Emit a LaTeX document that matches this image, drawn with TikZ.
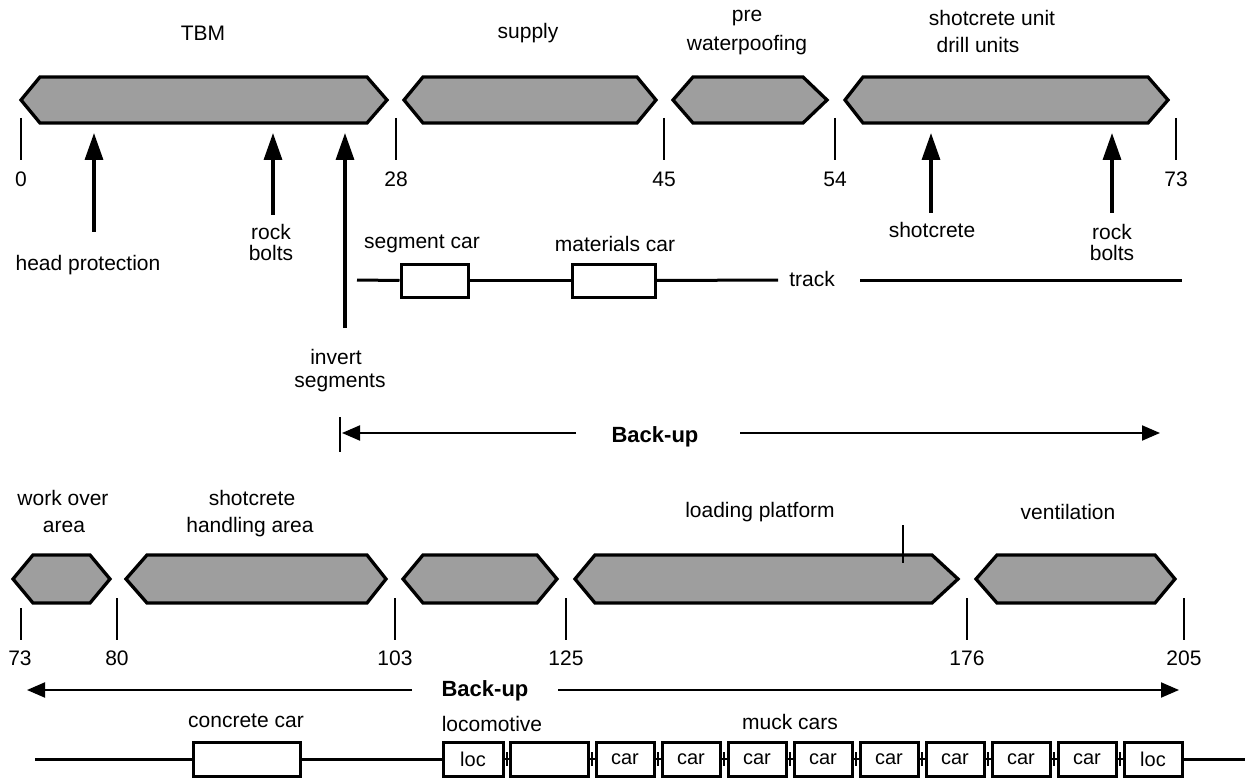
\documentclass[tikz,border=0pt]{standalone}
\usepackage{fontspec}
\setmainfont{Liberation Sans}
\usetikzlibrary{arrows.meta,calc}
\definecolor{hexgray}{RGB}{158,158,158}
\newcommand\hexshape[7]{%
  \draw[hexa] (#1,#7) -- (#2,#5) -- (#3,#5) -- (#4,#7) -- (#3,#6) -- (#2,#6) -- cycle;}
\tikzset{
  hexa/.style={draw=black, line width=3.3pt, fill=hexgray, line join=miter},
  ticksty/.style={line width=2.2pt},
  lbl/.style={font=\fontsize{21}{24}\selectfont, inner sep=0pt},
  bold/.style={font=\fontsize{22}{25}\selectfont\bfseries, inner sep=0pt},
  upar/.style={line width=3.3pt, -{Triangle[length=27pt,width=18pt]}},
  bkar/.style={line width=2pt, -{Triangle[length=18pt,width=15pt]}},
  carbox/.style={draw, line width=3pt, minimum height=34pt, inner sep=0pt, fill=white,
                 font=\fontsize{20}{22}\selectfont},
  trk/.style={line width=3pt},
}
\begin{document}
\begin{tikzpicture}[x=1pt,y=-1pt]
\useasboundingbox (0,0) rectangle (1245,778);

% ---------- top row ----------
\hexshape{21}{40}{367}{387}{77}{123}{100}
\hexshape{404}{423}{637}{656}{77}{123}{100}
\hexshape{673}{693}{803}{827}{77}{123}{100}
\hexshape{845}{863}{1148}{1168}{77}{123}{100}

\node[lbl] (tTBM) at (203,33) {TBM};
\node[lbl] (tsup) at (528,33) {supply};
\node[lbl] (tpre1) at (747,18) {pre};
\node[lbl] (tpre2) at (747,45) {waterpoofing};
\node[lbl] (tsh1) at (992,18) {shotcrete unit};
\node[lbl] (tsh2) at (978,45) {drill units};

% ticks top
\foreach \x/\n/\v in {21/t0/0, 396/t28/28, 664/t45/45, 835/t54/54, 1176/t73/73}{
  \draw[ticksty] (\x,118) -- (\x,160);
  \node[lbl] (\n) at (\x,179) {\v};
}

% up arrows
\coordinate (hpB) at (94,232);   \coordinate (hpT) at (94,133);
\coordinate (rbB) at (273,215);  \coordinate (rbT) at (273,133);
\coordinate (isB) at (345,328);  \coordinate (isT) at (345,133);
\coordinate (scB) at (931,213);  \coordinate (scT) at (931,133);
\coordinate (rb2B) at (1112,213); \coordinate (rb2T) at (1112,133);
\foreach \a in {hp,rb,is,sc,rb2}{\draw[upar] (\a B) -- (\a T);}

\node[lbl] (lhp) at (88,265) {head protection};
\node[lbl] (lrb1) at (271,232) {rock};
\node[lbl] (lrb2) at (271,253) {bolts};
\node[lbl] (lis1) at (336,357) {invert};
\node[lbl] (lis2) at (340,383) {segments};
\node[lbl] (lsc) at (932,230) {shotcrete};
\node[lbl] (lrb3) at (1112,232) {rock};
\node[lbl] (lrb4) at (1112,253) {bolts};

% top track
\node[carbox, minimum width=67pt, minimum height=33pt] (seg) at (434.5,280.5) {};
\node[carbox, minimum width=83pt, minimum height=33pt] (mat) at (613.5,280.5) {};
\node[lbl] (lseg) at (422,244) {segment car};
\node[lbl] (lmat) at (615,244) {materials car};
\node[lbl] (ttrk) at (812,279) {track};
\coordinate (tr0) at (357,280);
\coordinate (tr1) at (778,280);
\coordinate (tr2) at (860,280);
\coordinate (tr3) at (1182,280);
\draw[trk] (tr0) -- (seg.west);
\draw[trk] (seg.east) -- (mat.west);
\draw[trk] (mat.east) -- (tr1);
\draw[trk] (tr2) -- (tr3);

% back-up 1
\draw[ticksty] (340,417) -- (340,452);
\node[bold] (bk1) at (655,437) {Back-up};
\coordinate (b1l) at (342,433); \coordinate (b1a) at (576,433);
\coordinate (b1b) at (740,433); \coordinate (b1r) at (1160,433);
\draw[bkar] (b1a) -- (b1l);
\draw[bkar] (b1b) -- (b1r);

% ---------- bottom row ----------
\hexshape{13}{33}{90}{110}{555}{603}{579}
\hexshape{126}{147}{367}{386}{555}{603}{579}
\hexshape{403}{423}{537}{557}{555}{603}{579}
\hexshape{575}{595}{932}{958}{555}{603}{579}
\hexshape{976}{997}{1155}{1175}{555}{603}{579}
\draw[line width=1.8pt] (903,525) -- (903,563);

\node[lbl] (lwo1) at (63,498) {work over};
\node[lbl] (lwo2) at (64,527) {area};
\node[lbl] (lsh1) at (252,498) {shotcrete};
\node[lbl] (lsh2) at (250,527) {handling area};
\node[lbl] (llp) at (760,512) {loading platform};
\node[lbl] (lve) at (1068,512) {ventilation};

\draw[ticksty] (21,608) -- (21,640);
\node[lbl] (b73) at (20,658) {73};
\foreach \x/\n/\v in {117/b80/80, 395/b103/103, 566/b125/125, 967/b176/176, 1184/b205/205}{
  \draw[ticksty] (\x,598) -- (\x,640);
  \node[lbl] (\n) at (\x,658) {\v};
}

% back-up 2
\node[bold] (bk2) at (485,691) {Back-up};
\coordinate (b2l) at (27,690); \coordinate (b2a) at (412,690);
\coordinate (b2b) at (558,690); \coordinate (b2r) at (1179,690);
\draw[bkar] (b2a) -- (b2l);
\draw[bkar] (b2b) -- (b2r);

% bottom track
\node[lbl] (lcc) at (246,721) {concrete car};
\node[lbl] (lloco) at (492,724) {locomotive};
\node[lbl] (lmuck) at (790,722) {muck cars};
\node[carbox, minimum width=107pt] (cc) at (246.5,759) {};
\node[carbox, minimum width=60pt] (k0) at (473,759) {loc};
\node[carbox, minimum width=78pt] (k1) at (549,759) {};
\foreach \i/\cx in {2/625,3/691,4/757,5/823,6/889,7/955,8/1021,9/1087}{
  \node[carbox, minimum width=58pt] (k\i) at (\cx,759) {car};
}
\node[carbox, minimum width=58pt] (k10) at (1153,759) {loc};
\coordinate (bl) at (35,759);
\coordinate (br) at (1245,759);
\draw[trk] (bl) -- (cc.west);
\draw[trk] (cc.east) -- (k0.west);
\draw[trk] (k10.east) -- (br);
\foreach \i [evaluate=\i as \j using int(\i+1)] in {0,...,9}{
  \draw[line width=2pt] (k\i.east) -- (k\j.west);
  \draw[line width=2pt] ($(k\i.east)!0.5!(k\j.west)$) +(0,-7) -- +(0,7);
}
\end{tikzpicture}
\end{document}
